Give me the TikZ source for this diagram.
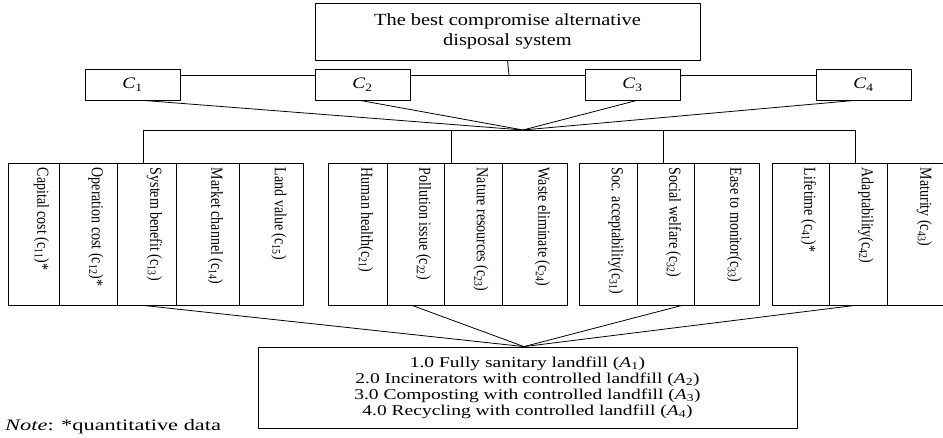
\documentclass[tikz,border=0pt]{standalone}
\usepackage{fontspec}
\setmainfont{Liberation Serif}
\newfontfamily\widefont[FakeStretch=1.2]{Liberation Serif}
\newfontfamily\widerfont[FakeStretch=1.3]{Liberation Serif}
\newfontfamily\notefont[FakeStretch=1.4]{Liberation Serif}
\tikzset{
  box/.style={draw, line width=0.8pt, inner sep=0pt},
  cbox/.style={box, minimum width=95pt, minimum height=31pt, font=\widefont\fontsize{16}{18}\selectfont},
  critbox/.style={box, minimum height=142pt},
  crit/.style={rotate=-90, anchor=west, inner sep=0pt, font=\fontsize{14}{16}\selectfont},
  link/.style={line width=0.8pt},
}
\begin{document}
\begin{tikzpicture}[x=1pt,y=-1pt]
\useasboundingbox (0,0) rectangle (943,438);
\node[box, minimum width=385pt, minimum height=57pt, align=center,
  font=\widefont\fontsize{17}{20}\selectfont] (goal) at (507.5,31.5)
  {The best compromise alternative\\disposal system};
\node[cbox] (c1) at (132.5,84.5) {\textit{C}\textsubscript{1}};
\node[cbox] (c2) at (362.5,84.5) {\textit{C}\textsubscript{2}};
\node[cbox] (c3) at (632.5,84.5) {\textit{C}\textsubscript{3}};
\node[cbox] (c4) at (863.5,84.5) {\textit{C}\textsubscript{4}};
\coordinate (hub) at (509,75);
\coordinate (meet) at (523,130);
\coordinate (h1) at (143,130);
\coordinate (h2) at (451,130);
\coordinate (h3) at (663,130);
\coordinate (h4) at (855,130);
\foreach \n/\a/\b/\t in {
    g11/8/59/{Capital cost (c\textsubscript{11})*},
    g12/59/117/{Operation cost (c\textsubscript{12})*},
    g13/117/176/{System benefit (c\textsubscript{13})},
    g14/176/239/{Market channel (c\textsubscript{14})},
    g15/239/303/{Land value (c\textsubscript{15})},
    g21/328/387/{Human health(c\textsubscript{21})},
    g22/387/444/{Pollution issue (c\textsubscript{22})},
    g23/444/502/{Nature resources (c\textsubscript{23})},
    g24/502/567/{Waste eliminate (c\textsubscript{24})},
    g31/579/637/{Soc. acceptability(c\textsubscript{31})},
    g32/637/694/{Social welfare (c\textsubscript{32})},
    g33/694/759/{Ease to monitor(c\textsubscript{33})},
    g41/772/829/{Lifetime (c\textsubscript{41})*},
    g42/829/887/{Adaptability(c\textsubscript{42})},
    g43/887/946/{Maturity (c\textsubscript{43})}}{
  \node[critbox, minimum width={(\b-\a)*1pt}] (\n) at ({(\a+\b)/2},234) {};
  \node[crit] at ([xshift=8pt,yshift=-5pt]\n.north) {\scalebox{1}[1.2]{\t}};
}
\node[box, minimum width=539pt, minimum height=81pt, align=center,
  font=\widerfont\fontsize{15}{16}\selectfont] (alt) at (527.5,387.5)
  {1.0 Fully sanitary landfill (\textit{A}\textsubscript{1})\\
   2.0 Incinerators with controlled landfill (\textit{A}\textsubscript{2})\\
   3.0 Composting with controlled landfill (\textit{A}\textsubscript{3})\\
   4.0 Recycling with controlled landfill (\textit{A}\textsubscript{4})};
\node[anchor=base west, inner sep=0pt, font=\notefont\fontsize{16}{18}\selectfont]
  (note) at (5,430) {\textit{Note}: *quantitative data};
\begin{scope}[link]
  \draw (goal.south) -- (hub);
  \draw (c1.east |- hub) -- (c2.west |- hub);
  \draw (c2.east |- hub) -- (c3.west |- hub);
  \draw (c3.east |- hub) -- (c4.west |- hub);
  \draw ([xshift=10.5pt]c1.south) -- (meet);
  \draw ([xshift=-2.5pt]c2.south) -- (meet);
  \draw ([xshift=4.5pt]c3.south) -- (meet);
  \draw ([xshift=-8.5pt]c4.south) -- (meet);
  \draw (h1) -- (h4);
  \draw (h1) -- (h1 |- g13.north);
  \draw (h2) -- (h2 |- g23.north);
  \draw (h3) -- (h3 |- g32.north);
  \draw (h4) -- (h4 |- g42.north);
  \draw ([xshift=-3.5pt]g13.south) -- ([xshift=-3.5pt]alt.north);
  \draw ([xshift=-3.5pt]g22.south) -- ([xshift=-3.5pt]alt.north);
  \draw ([xshift=16.5pt]g32.south) -- ([xshift=-3.5pt]alt.north);
  \draw ([xshift=-3pt]g42.south) -- ([xshift=-3.5pt]alt.north);
\end{scope}
\end{tikzpicture}
\end{document}
